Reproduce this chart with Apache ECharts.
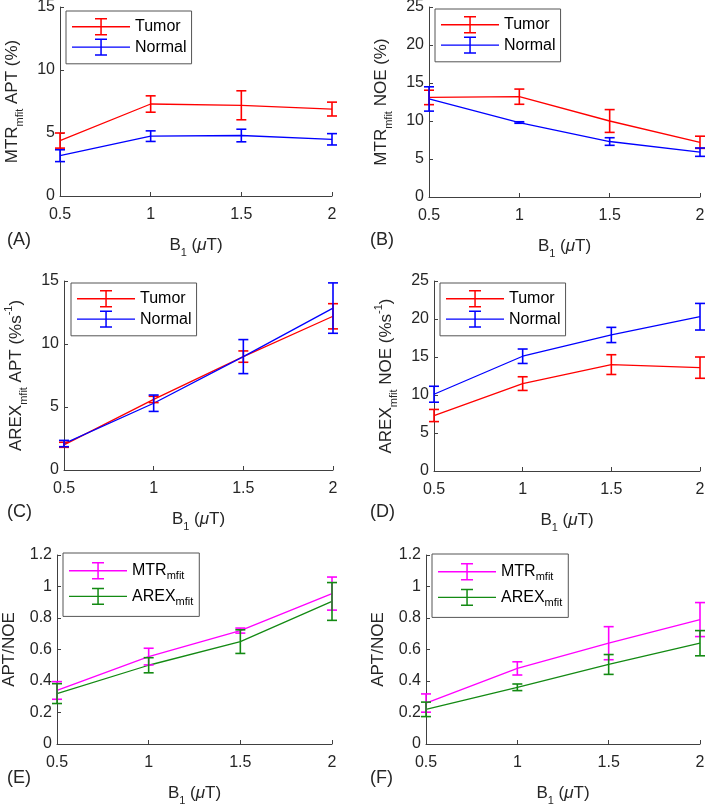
<!DOCTYPE html>
<html>
<head>
<meta charset="utf-8">
<script src="https://cdn.jsdelivr.net/npm/echarts/dist/echarts.min.js"></script>
<style>
  html, body { margin: 0; padding: 0; background: #fff; }
  #chart { width: 709px; height: 804px; }
</style>
</head>
<body>
<div id="chart"></div>
<script>
// B1 saturation power (uT)
const b1 = [0.5, 1, 1.5, 2];

// (A) MTRmfit APT (%)
const mtrAptTumor = [4.4, 7.3, 7.2, 6.9];
const mtrAptTumorErr = [0.6, 0.65, 1.15, 0.55];
const mtrAptNormal = [3.2, 4.75, 4.8, 4.5];
const mtrAptNormalErr = [0.47, 0.42, 0.5, 0.45];

// (B) MTRmfit NOE (%)
const mtrNoeTumor = [13.1, 13.2, 10.0, 7.2];
const mtrNoeTumorErr = [0.95, 1.0, 1.5, 0.8];
const mtrNoeNormal = [12.9, 9.8, 7.3, 5.9];
const mtrNoeNormalErr = [1.6, 0.1, 0.5, 0.55];

// (C) AREXmfit APT (%s-1)
const arexAptTumor = [2.0, 5.6, 9.0, 12.2];
const arexAptTumorErr = [0.2, 0.25, 0.45, 1.0];
const arexAptNormal = [2.1, 5.3, 9.0, 12.85];
const arexAptNormalErr = [0.25, 0.65, 1.35, 2.0];

// (D) AREXmfit NOE (%s-1)
const arexNoeTumor = [7.3, 11.5, 14.0, 13.6];
const arexNoeTumorErr = [0.8, 0.9, 1.3, 1.4];
const arexNoeNormal = [10.1, 15.1, 17.9, 20.3];
const arexNoeNormalErr = [1.05, 0.95, 1.0, 1.75];

// (E) APT/NOE, tumor
const ratioTumorMtr = [0.34, 0.555, 0.72, 0.955];
const ratioTumorMtrErr = [0.056, 0.053, 0.016, 0.105];
const ratioTumorArex = [0.32, 0.5, 0.65, 0.905];
const ratioTumorArexErr = [0.063, 0.048, 0.075, 0.12];

// (F) APT/NOE, normal
const ratioNormalMtr = [0.26, 0.48, 0.64, 0.79];
const ratioNormalMtrErr = [0.058, 0.042, 0.105, 0.108];
const ratioNormalArex = [0.22, 0.36, 0.505, 0.64];
const ratioNormalArexErr = [0.046, 0.021, 0.063, 0.08];

const FONT = '"Liberation Sans", Arial, Helvetica, sans-serif';
const AXIS = '#404040';
const TXT = '#262626';
const RED = '#ff0000', BLUE = '#0000ff', MAGENTA = '#ff00ff', GREEN = '#138a13';

const panels = [
  { grid: [60, 7, 272, 189], yMax: 15, yInt: 5, yName: '{a|MTR}{s|mfit}{a| APT (%)}',
    legend: [66, 11], letter: ['(A)', 7, 231],
    sets: [['Tumor', RED, mtrAptTumor, mtrAptTumorErr], ['Normal', BLUE, mtrAptNormal, mtrAptNormalErr]] },
  { grid: [429, 7, 271, 190], yMax: 25, yInt: 5, yName: '{a|MTR}{s|mfit}{a| NOE (%)}',
    legend: [435, 9], letter: ['(B)', 370, 231],
    sets: [['Tumor', RED, mtrNoeTumor, mtrNoeTumorErr], ['Normal', BLUE, mtrNoeNormal, mtrNoeNormalErr]] },
  { grid: [64, 281, 269, 189], yMax: 15, yInt: 5, yName: '{a|AREX}{s|mfit}{a| APT (%s}{p|-1}{a|)}',
    legend: [71, 283], letter: ['(C)', 7, 503],
    sets: [['Tumor', RED, arexAptTumor, arexAptTumorErr], ['Normal', BLUE, arexAptNormal, arexAptNormalErr]] },
  { grid: [434, 281, 266, 190], yMax: 25, yInt: 5, yName: '{a|AREX}{s|mfit}{a| NOE (%s}{p|-1}{a|)}',
    legend: [440, 283], letter: ['(D)', 370, 503],
    sets: [['Tumor', RED, arexNoeTumor, arexNoeTumorErr], ['Normal', BLUE, arexNoeNormal, arexNoeNormalErr]] },
  { grid: [57, 555, 275, 189], yMax: 1.2, yInt: 0.2, yName: '{a|APT/NOE}',
    legend: [63, 553], letter: ['(E)', 7, 769],
    sets: [['MTRmfit', MAGENTA, ratioTumorMtr, ratioTumorMtrErr], ['AREXmfit', GREEN, ratioTumorArex, ratioTumorArexErr]] },
  { grid: [426, 555, 274, 189], yMax: 1.2, yInt: 0.2, yName: '{a|APT/NOE}',
    legend: [432, 554], letter: ['(F)', 370, 769],
    sets: [['MTRmfit', MAGENTA, ratioNormalMtr, ratioNormalMtrErr], ['AREXmfit', GREEN, ratioNormalArex, ratioNormalArexErr]] }
];

const nameRich = {
  a: { fontSize: 17, fontFamily: FONT, color: TXT, lineHeight: 26 },
  s: { fontSize: 11, fontFamily: FONT, color: TXT, lineHeight: 12, verticalAlign: 'bottom' },
  p: { fontSize: 11, fontFamily: FONT, color: TXT, lineHeight: 12, verticalAlign: 'top' },
  m: { fontSize: 17, fontFamily: FONT, color: TXT, lineHeight: 26, fontStyle: 'italic' }
};

function errorBars(params, api) {
  const x = api.value(0);
  const lo = api.coord([x, api.value(1)]);
  const hi = api.coord([x, api.value(2)]);
  const w = 5;
  const style = { stroke: api.visual('color'), lineWidth: 1.6 };
  return {
    type: 'group',
    children: [
      { type: 'line', shape: { x1: hi[0], y1: hi[1], x2: lo[0], y2: lo[1] }, style },
      { type: 'line', shape: { x1: hi[0] - w, y1: hi[1], x2: hi[0] + w, y2: hi[1] }, style },
      { type: 'line', shape: { x1: lo[0] - w, y1: lo[1], x2: lo[0] + w, y2: lo[1] }, style }
    ]
  };
}

// filled outline of a line with an error bar through it (58 x 18)
const legendIcon = 'path://M0,8.3h58v1.4h-58z M28.3,1h1.5v16h-1.5z M23,0.3h12v1.5h-12z M23,16.2h12v1.5h-12z';

const grid = [], xAxis = [], yAxis = [], series = [], legend = [], graphic = [];

panels.forEach((p, i) => {
  const sub = i >= 4; // legends with subscripted names
  grid.push({ left: p.grid[0], top: p.grid[1], width: p.grid[2], height: p.grid[3],
    containLabel: false, outerBoundsMode: 'none' });

  xAxis.push({
    type: 'value', gridIndex: i, min: 0.5, max: 2, interval: 0.5,
    axisLine: { show: true, onZero: false, lineStyle: { color: AXIS, width: 1 } },
    axisTick: { show: true, inside: true, length: 4, lineStyle: { color: AXIS } },
    axisLabel: { fontSize: 16, fontFamily: FONT, color: TXT, margin: 11, showMinLabel: true, showMaxLabel: true, hideOverlap: false },
    splitLine: { show: false },
    name: '{a|B}{s|1}{a| (}{m|μ}{a|T)}', nameLocation: 'middle', nameGap: 36, nameMoveOverlap: false,
    nameTextStyle: { rich: nameRich }
  });

  yAxis.push({
    type: 'value', gridIndex: i, min: 0, max: p.yMax, interval: p.yInt,
    axisLine: { show: true, onZero: false, lineStyle: { color: AXIS, width: 1 } },
    axisTick: { show: true, inside: true, length: 4, lineStyle: { color: AXIS } },
    axisLabel: { fontSize: 16, fontFamily: FONT, color: TXT, margin: 5, showMinLabel: true, showMaxLabel: true, hideOverlap: false },
    splitLine: { show: false },
    name: p.yName, nameLocation: 'middle', nameGap: 35, nameMoveOverlap: false,
    nameTextStyle: { rich: nameRich }
  });

  p.sets.forEach(([name, color, vals, errs]) => {
    // error bars first so the legend takes its colour from them
    series.push({
      type: 'custom', name, xAxisIndex: i, yAxisIndex: i, color, itemStyle: { color },
      renderItem: errorBars, encode: { x: 0, y: [1, 2] }, clip: false, z: 3,
      data: b1.map((x, k) => [x, vals[k] - errs[k], vals[k] + errs[k]])
    });
    series.push({
      type: 'line', name, xAxisIndex: i, yAxisIndex: i, color,
      symbol: 'none', lineStyle: { color, width: 1.3 }, z: 2, animation: false,
      data: b1.map((x, k) => [x, vals[k]])
    });
  });

  legend.push({
    left: p.legend[0], top: p.legend[1], orient: 'vertical',
    data: p.sets.map(s => ({ name: s[0], icon: legendIcon, itemStyle: { color: s[1], borderWidth: 0 } })),
    itemWidth: 58, itemHeight: 18, itemGap: sub ? 6 : 3,
    padding: sub ? [9, 6, 9, 6] : [7, 5, 8, 6],
    backgroundColor: '#fff', borderColor: '#555', borderWidth: 1, borderRadius: 0,
    selectedMode: false,
    formatter: n => sub ? n.replace(/^(\w+?)mfit$/, '{a|$1}{s|mfit}') : n,
    textStyle: {
      fontSize: 16, fontFamily: FONT, color: '#000',
      rich: {
        a: { fontSize: 16, fontFamily: FONT, color: '#000', lineHeight: 22 },
        s: { fontSize: 11, fontFamily: FONT, color: '#000', verticalAlign: 'bottom', lineHeight: 12 }
      }
    }
  });

  graphic.push({
    type: 'text', left: p.letter[1], top: p.letter[2],
    style: { text: p.letter[0], fontSize: 18, fontFamily: FONT, fill: TXT }
  });
});

const chart = echarts.init(document.getElementById('chart'), null, { renderer: 'canvas' });
chart.setOption({
  animation: false,
  backgroundColor: '#fff',
  grid, xAxis, yAxis, series, legend, graphic
});
</script>
</body>
</html>
